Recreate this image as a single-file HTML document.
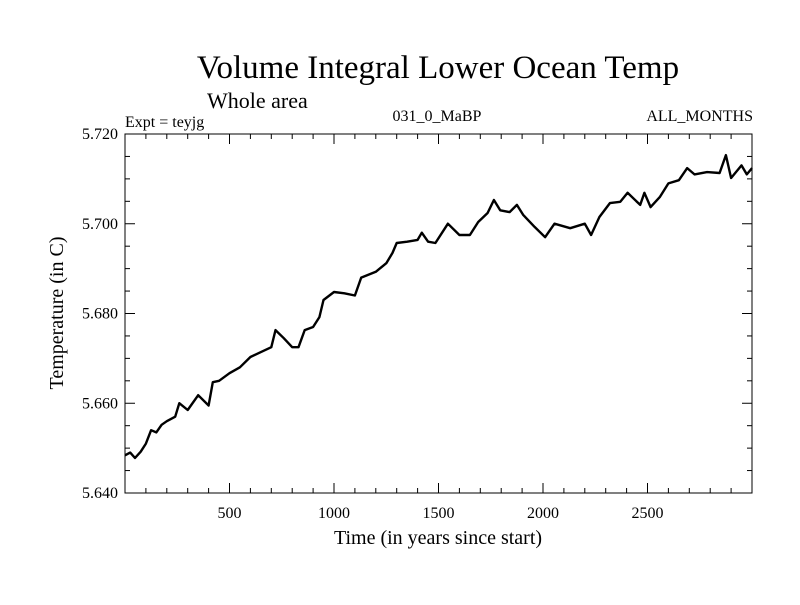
<!DOCTYPE html>
<html><head><meta charset="utf-8"><style>
html,body{margin:0;padding:0;background:#fff;}
svg text{font-family:"Liberation Serif",serif;fill:#000;}
</style></head><body>
<svg id="chart" width="800" height="600" xmlns="http://www.w3.org/2000/svg">
<text x="438" y="78" font-size="33" text-anchor="middle">Volume Integral Lower Ocean Temp</text>
<text x="207" y="108" font-size="22">Whole area</text>
<text x="125" y="127" font-size="16">Expt = teyjg</text>
<text x="437" y="121" font-size="16" text-anchor="middle">031_0_MaBP</text>
<text x="753" y="121" font-size="16" text-anchor="end">ALL_MONTHS</text>
<text x="438" y="544" font-size="20" text-anchor="middle">Time (in years since start)</text>
<text x="0" y="0" font-size="20" text-anchor="middle" transform="translate(63,313) rotate(-90)">Temperature (in C)</text>
<g id="ticks"></g>
<path id="series" fill="none" stroke="#000" stroke-width="2.4" stroke-linejoin="round"></path>
<rect x="125" y="134" width="627" height="359" fill="none" stroke="#000" stroke-width="1"></rect>
</svg>
<script>
const years=[0,25,48,75,100,125,150,175,200,240,260,300,350,400,420,450,500,550,600,650,700,720,760,800,830,860,900,930,950,1000,1050,1100,1130,1200,1250,1280,1300,1350,1400,1420,1450,1485,1545,1600,1650,1690,1735,1765,1795,1840,1875,1905,1960,2010,2055,2130,2200,2230,2270,2320,2370,2405,2465,2485,2515,2560,2600,2650,2690,2725,2785,2845,2875,2900,2950,2975,3000];
const temps=[5.6484,5.6490,5.6478,5.6492,5.6510,5.6540,5.6535,5.6552,5.6560,5.6570,5.6600,5.6585,5.6618,5.6595,5.6647,5.6650,5.6667,5.6680,5.6703,5.6714,5.6725,5.6763,5.6745,5.6725,5.6725,5.6763,5.6770,5.6792,5.6830,5.6848,5.6845,5.6840,5.6880,5.6893,5.6912,5.6935,5.6957,5.6960,5.6964,5.6980,5.6960,5.6957,5.7000,5.6975,5.6975,5.7004,5.7024,5.7053,5.7030,5.7026,5.7042,5.7020,5.6993,5.6970,5.7000,5.6990,5.7000,5.6975,5.7015,5.7046,5.7049,5.7069,5.7042,5.7069,5.7037,5.7060,5.7090,5.7097,5.7124,5.7110,5.7115,5.7113,5.7153,5.7102,5.7130,5.7110,5.7124];
const xTickLabels=[500,1000,1500,2000,2500];
const yTickLabels=["5.640","5.660","5.680","5.700","5.720"];
const X0=125,X1=752,Y0=493,Y1=134,XMIN=0,XMAX=3000,YMIN=5.64,YMAX=5.72;
function xs(v){return X0+(v-XMIN)/(XMAX-XMIN)*(X1-X0);}
function ys(v){return Y0-(v-YMIN)/(YMAX-YMIN)*(Y0-Y1);}
const NS="http://www.w3.org/2000/svg";
const g=document.getElementById('ticks');
function line(x1,y1,x2,y2,name){const l=document.createElementNS(NS,'line');l.setAttribute('x1',x1);l.setAttribute('y1',y1);l.setAttribute('x2',x2);l.setAttribute('y2',y2);l.setAttribute('stroke','#000');l.setAttribute('stroke-width','1');


g.appendChild(l);}
for(let v=100;v<XMAX;v+=100){const x=xs(v);const len=(v%500===0)?10:5;line(x,Y0,x,Y0-len,'x-tick');line(x,Y1,x,Y1+len,'x-tick-top');}
for(let i=0;i<=16;i++){const v=YMIN+i*0.005;const y=ys(v);const len=(i%4===0)?10:5;line(X0,y,X0+len,y,'y-tick');line(X1,y,X1-len,y,'y-tick-right');}
xTickLabels.forEach(v=>{const t=document.createElementNS(NS,'text');t.setAttribute('x',xs(v));t.setAttribute('y',Y0+25);t.setAttribute('font-size','16');t.setAttribute('text-anchor','middle');t.textContent=v;


g.appendChild(t);});
yTickLabels.forEach(s=>{const t=document.createElementNS(NS,'text');t.setAttribute('x',X0-7);t.setAttribute('y',ys(parseFloat(s))+5);t.setAttribute('font-size','16');t.setAttribute('text-anchor','end');t.textContent=s;


g.appendChild(t);});
let d='';years.forEach((yr,i)=>{d+=(i?'L':'M')+xs(yr).toFixed(1)+','+ys(temps[i]).toFixed(1);});
document.getElementById('series').setAttribute('d',d);
</script>
</body></html>
